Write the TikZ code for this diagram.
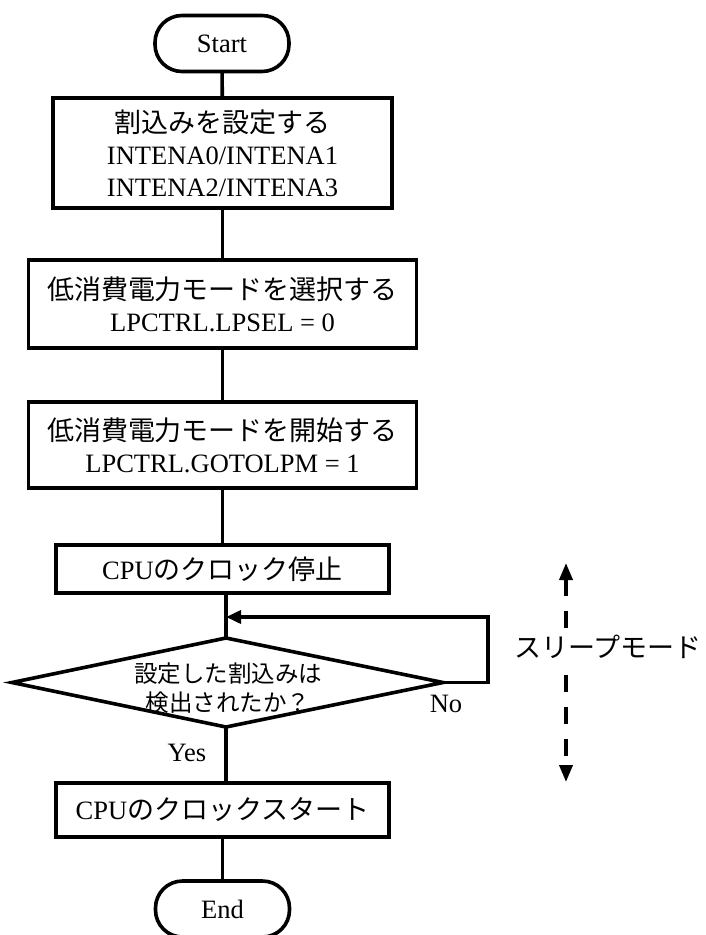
\documentclass[tikz,border=0pt]{standalone}
\usepackage{fontspec}
\setmainfont{Liberation Serif}
\newfontfamily\jp{Noto Sans CJK JP}
\usetikzlibrary{arrows.meta}
\begin{document}
\begin{tikzpicture}[x=1pt,y=-1pt,
  every node/.style={inner sep=0pt, outer sep=0pt},
  flowline/.style={line width=3.6pt},
  procbox/.style={draw, line width=3.6pt, rectangle, align=center, font=\fontsize{26.5}{32}\selectfont},
  termbox/.style={draw, line width=3.6pt, rectangle, rounded corners=27pt, minimum width=134pt, minimum height=56pt, font=\fontsize{26.5}{32}\selectfont},
  lbl/.style={font=\fontsize{26.5}{32}\selectfont},
  tip/.style={-{Triangle[length=15pt,width=13pt]}}
]
\useasboundingbox (0,0) rectangle (705,935);
\fill[white] (0,0) rectangle (705,935);

\node[termbox] (start) at (222,43.5) {Start};
\node[procbox, minimum width=339pt, minimum height=110pt] (b1) at (222.5,153)
  {{\jp\fontsize{27}{32}\selectfont 割込みを設定する}\\INTENA0/INTENA1\\INTENA2/INTENA3};
\node[procbox, minimum width=388pt, minimum height=88pt] (b2) at (222.5,304)
  {{\jp\fontsize{27}{32}\selectfont 低消費電力モードを選択する}\\LPCTRL.LPSEL = 0};
\node[procbox, minimum width=388pt, minimum height=86pt] (b3) at (222.5,445)
  {{\jp\fontsize{27}{32}\selectfont 低消費電力モードを開始する}\\LPCTRL.GOTOLPM = 1};
\node[procbox, minimum width=333pt, minimum height=48pt] (b4) at (222.5,569)
  {CPU{\jp\fontsize{27}{32}\selectfont のクロック停止}};

% decision diamond
\coordinate (dT) at (226,638);
\coordinate (dB) at (226,727);
\coordinate (dL) at (12,682.5);
\coordinate (dR) at (443,682.5);
\draw[flowline, line join=miter] (dT) -- (dR) -- (dB) -- (dL) -- cycle;
\node[align=center, font=\jp\fontsize{23.5}{29}\selectfont] (dtext) at (228,688) {設定した割込みは\\検出されたか？};

\node[procbox, minimum width=333pt, minimum height=54pt] (b5) at (222.5,810)
  {CPU{\jp\fontsize{27}{32}\selectfont のクロックスタート}};
\node[termbox] (end) at (222.5,909) {End};

% connectors
\draw[flowline] (start) -- (b1);
\draw[flowline] (b1) -- (b2);
\draw[flowline] (b2) -- (b3);
\draw[flowline] (b3) -- (b4);
\draw[flowline] (b4.south -| dT) -- (dT);
\draw[flowline] (dB) -- (b5.north -| dB);
\draw[flowline] (b5) -- (end);

% No loop
\coordinate (lc) at (488,617);
\coordinate (lt) at (226,617);
\draw[flowline, tip] (dR) -- (dR -| lc) -- (lc) -- (lt);

\node[lbl] (no) at (446,704) {No};
\node[lbl] (yes) at (187,753) {Yes};

% sleep mode range
\coordinate (st) at (566,563);
\coordinate (sb) at (566,782);
\draw[line width=3.6pt, dash pattern=on 17pt off 15pt,
  {Triangle[length=17pt,width=13pt]}-{Triangle[length=17pt,width=13pt]}] (st) -- (sb);
\node[fill=white, inner ysep=6pt, font=\jp\fontsize{27}{32}\selectfont] (sleep) at (608,647) {スリープモード};
\end{tikzpicture}
\end{document}
